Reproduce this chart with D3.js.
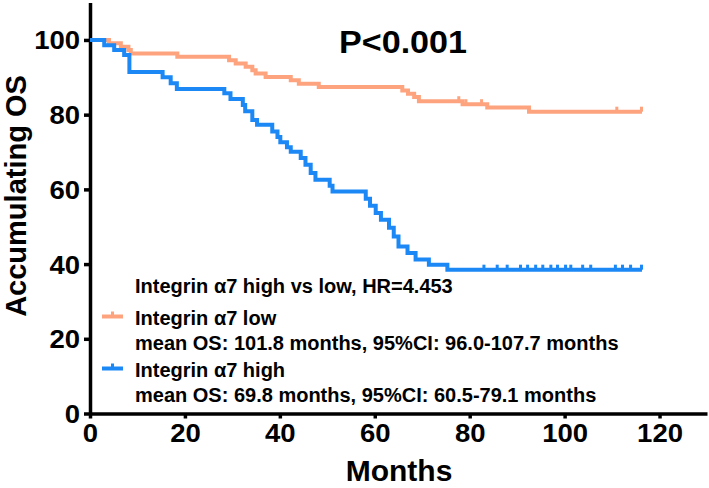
<!DOCTYPE html>
<html><head><meta charset="utf-8">
<script src="https://cdn.jsdelivr.net/npm/d3@7"></script>
<style>
html,body{margin:0;padding:0;background:#fff;}
svg{display:block;}
text{font-family:"Liberation Sans",Arial,Helvetica,sans-serif;font-weight:bold;fill:#000;}
</style></head>
<body>
<svg id="chart" width="709" height="488"></svg>
<script>
// ---- data ----
const xTicks = [0, 20, 40, 60, 80, 100, 120];
const yTicks = [0, 20, 40, 60, 80, 100];

const lowTimes = [0, 4.0, 6.5, 8.1, 8.6, 18.4, 29.3, 30.7, 32.8, 34.2, 34.9, 37.0, 42.3, 44.0, 48.2, 65.8, 67.0, 68.3, 69.3, 78.5, 83.7, 92.5];
const lowSurv  = [100, 99.1, 98.2, 97.3, 96.4, 95.5, 94.6, 93.7, 92.8, 91.9, 91.0, 90.1, 89.2, 88.3, 87.4, 86.5, 85.6, 84.7, 83.6, 82.8, 81.9, 80.8];
const lowEnd = 116.3;
const lowCensor = [77.7, 79.2, 82.5, 111.0, 116.2];

const highTimes = [0, 3.0, 5.1, 7.2, 8.3, 15.3, 17.0, 18.3, 28.3, 29.6, 32.2, 32.7, 34.2, 35.2, 38.4, 39.5, 40.1, 41.5, 42.3, 44.4, 45.4, 46.5, 47.5, 50.5, 51.1, 58.1, 59.0, 60.2, 61.3, 63.0, 64.0, 65.0, 66.9, 68.6, 71.4, 75.3];
const highSurv  = [100, 98.6, 97.3, 96.0, 91.4, 90.0, 88.4, 86.9, 85.7, 84.2, 82.6, 80.9, 78.6, 77.3, 75.5, 74.0, 72.6, 71.3, 70.1, 68.4, 66.6, 64.4, 62.6, 61.0, 59.4, 57.5, 55.6, 53.7, 51.9, 49.7, 47.4, 44.7, 43.0, 41.2, 39.8, 38.5];
const highEnd = 116.3;
const highCensor = [83.0, 85.8, 87.9, 90.7, 92.2, 93.9, 95.4, 97.1, 98.5, 100.2, 101.3, 103.8, 105.5, 110.7, 112.2, 113.9, 116.2];

const pText = "P<0.001";
const xTitle = "Months";
const yTitle = "Accumulating OS";
const hrText = "Integrin α7 high vs low, HR=4.453";
const legendNames = ["Integrin α7 low", "Integrin α7 high"];
const legendStats = ["mean OS: 101.8 months, 95%CI: 96.0-107.7 months", "mean OS: 69.8 months, 95%CI: 60.5-79.1 months"];

const colLow = "#FDA47F";
const colHigh = "#1B88F6";

// ---- drawing ----
const svg = d3.select("#chart");
const x = d3.scaleLinear().domain([0, 130]).range([90, 707]);
const y = d3.scaleLinear().domain([0, 110]).range([413.5, 2.6]);

// axes
const xAxis = d3.axisBottom(x).tickValues(xTicks).tickSize(5).tickSizeOuter(0).tickPadding(6);
const yAxis = d3.axisLeft(y).tickValues(yTicks).tickSize(6).tickSizeOuter(0).tickPadding(3);

const gx = svg.append("g").attr("transform", `translate(0,${y(0)})`).call(xAxis);
const gy = svg.append("g").attr("transform", `translate(${x(0)},0)`).call(yAxis);
[gx, gy].forEach(g => {
  g.select(".domain").attr("stroke", "#000").attr("stroke-width", 3.5);
  g.selectAll(".tick line").attr("stroke", "#000").attr("stroke-width", 3.5);
  g.selectAll(".tick text").attr("font-size", 25).attr("font-weight", "bold")
    .attr("font-family", '"Liberation Sans",Arial,sans-serif').attr("fill", "#000");
});
gx.selectAll(".tick text").attr("dy", "0.71em").attr("transform", "scale(1.1,1)");
gy.selectAll(".tick text").attr("dy", "0.36em").attr("transform", "scale(1.1,1)");

// survival curves
function pts(times, surv, end) {
  const p = times.map((t, i) => [t, surv[i]]);
  p.push([end, surv[surv.length - 1]]);
  return p;
}
function survAt(times, surv, t) {
  let v = surv[0];
  for (let i = 0; i < times.length; i++) if (times[i] <= t) v = surv[i];
  return v;
}
const line = d3.line().x(d => x(d[0])).y(d => y(d[1])).curve(d3.curveStepAfter);

function drawCurve(times, surv, end, censor, col) {
  svg.append("path").datum(pts(times, surv, end))
    .attr("d", line).attr("fill", "none").attr("stroke", col)
    .attr("stroke-width", 4).attr("stroke-linejoin", "miter").attr("stroke-linecap", "butt");
  svg.append("g").selectAll("line").data(censor).join("line")
    .attr("x1", d => x(d)).attr("x2", d => x(d))
    .attr("y1", d => y(survAt(times, surv, d)))
    .attr("y2", d => y(survAt(times, surv, d)) - 5)
    .attr("stroke", col).attr("stroke-width", 3);
}
drawCurve(lowTimes, lowSurv, lowEnd, lowCensor, colLow);
drawCurve(highTimes, highSurv, highEnd, highCensor, colHigh);

// P value
svg.append("text").attr("x", 0).attr("y", 0)
  .attr("transform", `translate(403,53) scale(1.1,1)`)
  .attr("text-anchor", "middle").attr("font-size", 31).text(pText);

// axis titles
svg.append("text").attr("x", 399).attr("y", 481).attr("text-anchor", "middle")
  .attr("font-size", 30).text(xTitle);
svg.append("text").attr("transform", "translate(26,196) rotate(-90)")
  .attr("text-anchor", "middle").attr("font-size", 29).text(yTitle);

// legend
svg.append("text").attr("x", 135).attr("y", 293).attr("font-size", 20).text(hrText);
const legY = [316.5, 368.5];
const legCols = [colLow, colHigh];
legendNames.forEach((name, i) => {
  const g = svg.append("g");
  g.append("line").attr("x1", 102).attr("x2", 123).attr("y1", legY[i]).attr("y2", legY[i])
    .attr("stroke", legCols[i]).attr("stroke-width", 4);
  g.append("line").attr("x1", 112.5).attr("x2", 112.5).attr("y1", legY[i]).attr("y2", legY[i] - 5)
    .attr("stroke", legCols[i]).attr("stroke-width", 3);
  g.append("text").attr("x", 135).attr("y", legY[i] + 8.5).attr("font-size", 20).text(name);
  g.append("text").attr("x", 135).attr("y", legY[i] + 33.5).attr("font-size", 20).text(legendStats[i]);
});
</script>
</body></html>
